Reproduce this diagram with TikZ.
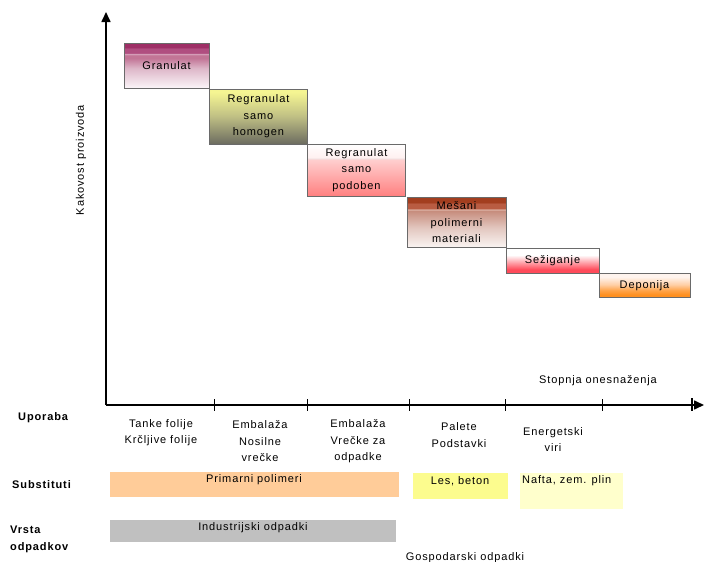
\documentclass[tikz,border=0pt]{standalone}
\usepackage{fontspec}
\setmainfont{Liberation Sans}[LetterSpace=8]
\usetikzlibrary{arrows.meta}

\definecolor{gGtop}{HTML}{9E2F66}
\definecolor{gGc}{HTML}{B04E80}
\definecolor{gGline}{HTML}{DCAEC4}
\definecolor{gGb}{HTML}{C27596}
\definecolor{gGmid}{HTML}{DDB6C8}
\definecolor{gGbot}{HTML}{FBF5F8}
\definecolor{hTop}{HTML}{F5F592}
\definecolor{hMid}{HTML}{BFBF84}
\definecolor{hBot}{HTML}{6C6C60}
\definecolor{pTop}{HTML}{FFFFFF}
\definecolor{pTopb}{HTML}{FFF0F0}
\definecolor{pLine}{HTML}{F0E0E0}
\definecolor{pMid}{HTML}{FFCFCF}
\definecolor{pBot}{HTML}{FF8080}
\definecolor{mTop}{HTML}{A33E1F}
\definecolor{mB}{HTML}{B95C42}
\definecolor{mLine}{HTML}{E3C0B5}
\definecolor{mC}{HTML}{C68B7B}
\definecolor{mMid}{HTML}{E2C6BE}
\definecolor{mBot}{HTML}{FAF5F3}
\definecolor{sTop}{HTML}{FFFFFF}
\definecolor{sMid}{HTML}{FFB4BA}
\definecolor{sBot}{HTML}{FF4B5A}
\definecolor{dTop}{HTML}{FFF4EE}
\definecolor{dMid}{HTML}{FFCFA6}
\definecolor{dLow}{HTML}{FFA44A}
\definecolor{dBot}{HTML}{FF9020}
\definecolor{barOrange}{HTML}{FFCC99}
\definecolor{barYellow}{HTML}{FCFC8E}
\definecolor{barLight}{HTML}{FFFFCC}
\definecolor{barGray}{HTML}{C0C0C0}
\definecolor{boxLine}{HTML}{6A6A6A}

\pgfdeclareverticalshading{shGran}{100bp}{color(0bp)=(gGbot); color(25bp)=(gGbot); color(47bp)=(gGmid); color(58bp)=(gGb); color(61.5bp)=(gGb); color(62.5bp)=(gGline); color(64bp)=(gGc); color(69bp)=(gGc); color(70bp)=(gGtop); color(100bp)=(gGtop)}
\pgfdeclareverticalshading{shHomo}{100bp}{color(0bp)=(hBot); color(25bp)=(hBot); color(50bp)=(hMid); color(72bp)=(hTop); color(100bp)=(hTop)}
\pgfdeclareverticalshading{shPod}{100bp}{color(0bp)=(pBot); color(25bp)=(pBot); color(60bp)=(pMid); color(61bp)=(pLine); color(62bp)=(pTopb); color(75bp)=(pTop); color(100bp)=(pTop)}
\pgfdeclareverticalshading{shMes}{100bp}{color(0bp)=(mBot); color(25bp)=(mBot); color(45bp)=(mMid); color(62bp)=(mC); color(63bp)=(mLine); color(64bp)=(mB); color(69bp)=(mB); color(70bp)=(mTop); color(100bp)=(mTop)}
\pgfdeclareverticalshading{shSez}{100bp}{color(0bp)=(sBot); color(25bp)=(sBot); color(33bp)=(sBot); color(50bp)=(sMid); color(62bp)=(sTop); color(100bp)=(sTop)}
\pgfdeclareverticalshading{shDep}{100bp}{color(0bp)=(dBot); color(25bp)=(dBot); color(31bp)=(dBot); color(40bp)=(dLow); color(52bp)=(dMid); color(68bp)=(dTop); color(100bp)=(dTop)}

\begin{document}
\begin{tikzpicture}[x=1pt,y=-1pt,
  txt/.style={font=\fontsize{11}{16.5}\selectfont, inner sep=0pt, align=center},
  head/.style={font=\fontsize{11}{16.5}\selectfont\bfseries, inner sep=0pt, align=left, anchor=west},
  stepbox/.style={draw=boxLine, line width=0.8pt, inner sep=0pt, align=center,
    font=\fontsize{11}{16.5}\selectfont},
  bar/.style={inner sep=0pt, anchor=north west},
  axis/.style={line width=1.6pt, -{Triangle[length=10pt,width=9pt]}},
  tick/.style={line width=0.8pt}
]
\useasboundingbox (0,0) rectangle (704,562);
\fill[white] (0,0) rectangle (704,562);

% axes
\coordinate (O) at (106,405);
\coordinate (Ytop) at (106,12);
\coordinate (Xend) at (704,405);
\draw[axis] (O) -- (Ytop);
\draw[axis] (O) -- (Xend);
\foreach \x/\n in {214/t1,307/t2,409/t3,505/t4,602/t5} {
  \coordinate (\n a) at (\x,399);
  \coordinate (\n b) at (\x,411);
  \draw[tick] (\n a) -- (\n b);
}
\coordinate (t6a) at (692,398);
\coordinate (t6b) at (692,411);
\draw[line width=1.4pt] (t6a) -- (t6b);

\node[txt, rotate=90] (ylab) at (81,160) {Kakovost proizvoda};
\node[txt] (xlab) at (598,381) {Stopnja onesnaženja};

% steps
\node[stepbox, shade, shading=shGran, minimum width=85pt, minimum height=45pt] (b1) at (166.5,65.5) {Granulat};
\node[stepbox, shade, shading=shHomo, minimum width=98pt, minimum height=55pt] (b2) at (258.5,116.5) {Regranulat\\samo\\homogen};
\node[stepbox, shade, shading=shPod, minimum width=98pt, minimum height=52pt] (b3) at (356.5,170) {Regranulat\\samo\\podoben};
\node[stepbox, shade, shading=shMes, minimum width=99pt, minimum height=50pt] (b4) at (456.5,222.5) {Mešani\\polimerni\\materiali};
\node[stepbox, shade, shading=shSez, minimum width=93pt, minimum height=25pt] (b5) at (552.5,261) {Sežiganje};
\node[stepbox, shade, shading=shDep, minimum width=91pt, minimum height=24pt] (b6) at (644.5,285.5) {Deponija};

% row headers
\node[head] (h1) at (18,418) {Uporaba};
\node[head] (h2) at (12,485) {Substituti};
\node[head] (h3) at (10,539.5) {Vrsta\\odpadkov};

% uses
\node[txt] (u1) at (161,432.5) {Tanke folije\\Krčljive folije};
\node[txt] (u2) at (260,441.5) {Embalaža\\Nosilne\\vrečke};
\node[txt] (u3) at (358,441.5) {Embalaža\\Vrečke za\\odpadke};
\node[txt] (u4) at (459,435) {Palete\\Podstavki};
\node[txt] (u5) at (553,439.5) {Energetski\\viri};

% substitutes
\node[bar, fill=barOrange, minimum width=289pt, minimum height=25pt] (s1) at (110,472) {};
\node[txt] (s1t) at (254,480) {Primarni polimeri};
\node[bar, fill=barYellow, minimum width=95pt, minimum height=26pt] (s2) at (413,472.5) {};
\node[txt] (s2t) at (460,481) {Les, beton};
\node[bar, fill=barLight, minimum width=103pt, minimum height=36pt] (s3) at (520,473) {};
\node[txt, anchor=west] (s3t) at (522,481) {Nafta, zem. plin};

% waste types
\node[bar, fill=barGray, minimum width=286pt, minimum height=22pt] (w1) at (110,520) {};
\node[txt] (w1t) at (253,528) {Industrijski odpadki};
\node[txt] (w2t) at (465,558) {Gospodarski odpadki};
\end{tikzpicture}
\end{document}
